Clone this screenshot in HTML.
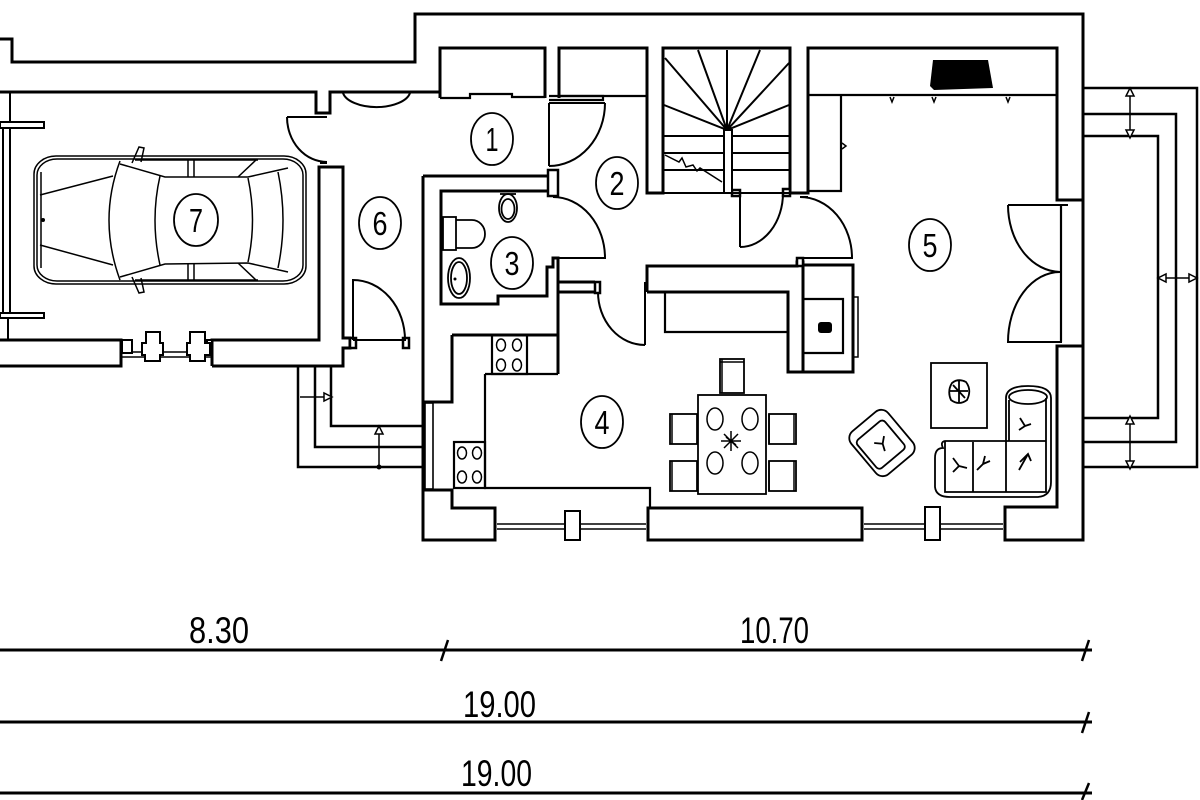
<!DOCTYPE html>
<html><head><meta charset="utf-8"><style>
html,body{margin:0;padding:0;background:#fff;}
svg{display:block}
text{font-family:"Liberation Sans",sans-serif;fill:#000;stroke:none}
</style></head><body>
<svg width="1200" height="800" viewBox="0 0 1200 800" xmlns="http://www.w3.org/2000/svg">
<rect width="1200" height="800" fill="#fff"/>

<!-- MAIN WALLS -->
<g fill="none" stroke="#000" stroke-width="3" stroke-linejoin="miter">
 <path d="M0,39 H12 V62 H415 V14 H1083 V540 H1005 V507 H1057 V346 H1083"/>
 <path d="M440,98 V48 H545 V98"/>
 <path d="M559,98 V48 H647 V193 H663 V48 H790 V193 H808 V48 H1057 V200 H1083"/>
 <!-- garage -->
 <path d="M0,92 H316 V113 H330 V92 H440"/>
 <path d="M0,340 H121 V366 H0"/>
 <path d="M212,366 V340 H319 V167 H343 V338 H350 V348 H343 V366 H212"/>
 <!-- house left / room3 -->
 <path d="M423,176 V540 H495 V508 H452 V490 H423"/>
 <path d="M423,176 H548"/>
 <path d="M548,191 H441 V304 H498 V296 H547 V267 H553 V258 H558 V374"/>
 <path d="M452,335 V402 H423"/>
 <path d="M452,335 H558"/>
 <path d="M558,282 H595"/>
 <path d="M558,292 H598"/>
 <!-- wall block + fireplace -->
 <path d="M647,292 V266 H797 V262 H803 V372"/>
 <path d="M647,292 H788 V372 H853 V265 H803"/>
 <!-- bottom wall -->
 <path d="M648,508 H862 V540 H648 Z"/>
</g>
<g fill="#fff" stroke="#000" stroke-width="2.5">
 <rect x="548" y="170" width="10" height="26"/>
 <rect x="595" y="282" width="5" height="11"/>
 <rect x="732" y="190" width="8" height="6"/>
 <rect x="783" y="189" width="7" height="7"/>
 <rect x="797" y="258" width="6" height="8"/>
 <rect x="350" y="338" width="6" height="10"/>
 <rect x="403" y="338" width="6" height="10"/>
</g>

<!-- closets, kitchen, fireplace details -->
<g fill="none" stroke="#000" stroke-width="2.2">
 <path d="M440,98 H470 V94 H512 V97 H545"/>
 <path d="M559,96 H647"/>
 <path d="M549,96 H603 V100 H549"/>
 <path d="M665,292 V332 H788"/>
 <path d="M803,299 H843 V353 H803"/>
 <rect x="853" y="297" width="5" height="60" stroke-width="1.5"/>
 <path d="M485,374 H558"/>
 <path d="M485,374 V488 H650 V508"/>
 <rect x="492" y="335" width="35" height="39"/>
 <rect x="454" y="442" width="31" height="46"/>
 <!-- room5 cabinet -->
 <path d="M808,95 H1057"/>
 <path d="M841,95 V191 H808"/>
 <!-- door frame right -->
 <path d="M1061,205 V342"/>
</g>
<rect x="818" y="322" width="14" height="11" rx="3" fill="#000"/>
<polygon points="933,60 988,60 993,88 934,90 930,86" fill="#000"/>
<g fill="none" stroke="#000" stroke-width="1.5">
 <path d="M890,97 l2,5 l2,-5 M932,97 l2,5 l2,-5 M1006,97 l2,5 l2,-5 M842,143 l4,3 l-4,3"/>
 <ellipse cx="501" cy="345" rx="4.5" ry="6"/><ellipse cx="517" cy="345" rx="4.5" ry="6"/>
 <ellipse cx="501" cy="365" rx="4.5" ry="6"/><ellipse cx="517" cy="365" rx="4.5" ry="6"/>
 <ellipse cx="462" cy="453" rx="4.5" ry="6"/><ellipse cx="477" cy="453" rx="4.5" ry="6"/>
 <ellipse cx="462" cy="477" rx="4.5" ry="6"/><ellipse cx="477" cy="477" rx="4.5" ry="6"/>
</g>

<!-- windows -->
<g fill="none" stroke="#000" stroke-width="1.6">
 <path d="M497,524 H646 M497,529 H646"/>
 <path d="M864,524 H1003 M864,529 H1003"/>
 <rect x="425" y="403" width="8" height="86"/>
 <path d="M122,352 H212 M122,357 H212"/>
</g>
<g fill="#fff" stroke="#000" stroke-width="2">
 <rect x="565" y="511" width="15" height="29"/>
 <rect x="925" y="507" width="15" height="33"/>
 <rect x="122" y="340" width="10" height="13"/>
 <rect x="207" y="340" width="5" height="13"/>
 <path d="M146,332 H160 V343 H163 V355 H160 V361 H145 V355 H142 V343 H146 Z"/>
 <path d="M190,332 H205 V343 H210 V355 H205 V361 H190 V355 H187 V343 H190 Z"/>
</g>

<!-- garage door left -->
<g fill="none" stroke="#000" stroke-width="2">
 <path d="M10,92 V122 M3,128 V313 M10,128 V313 M8,318 V340"/>
 <rect x="0" y="122" width="44" height="6" fill="#fff"/>
 <rect x="0" y="313" width="44" height="5" fill="#fff"/>
</g>

<!-- DOORS -->
<g fill="none" stroke="#000" stroke-width="2">
 <path d="M343,93 A34,17 0 0 0 410,93"/>
 <path d="M287,117 H327 M287,117 A40,45 0 0 0 327,162 M320,163 H327"/>
 <path d="M353,340 V280 A52,60 0 0 1 405,340 H353"/>
 <path d="M549,103 H605 M549,103 V166 M605,103 A56,63 0 0 1 549,166"/>
 <path d="M553,197 A52,61 0 0 1 605,258 H553"/>
 <path d="M645,282 V345 M598,292 A47,53 0 0 0 645,345"/>
 <path d="M740,193 V247 M783,193 A43,54 0 0 1 740,247"/>
 <path d="M800,197 H808 M800,197 A52,61 0 0 1 852,258 H800"/>
 <path d="M1008,205 H1068 M1008,205 A53,67 0 0 0 1060,272 A52,70 0 0 0 1008,342 H1062"/>
</g>

<!-- STAIRS -->
<g fill="none" stroke="#000" stroke-width="2">
 <path d="M727,130 L665,58 M727,130 L698,50 M727,130 L727,50 M727,130 L760,50 M727,130 L789,63 M727,130 L664,105 M727,130 L789,105"/>
 <path d="M663,136 H724 M732,136 H789 M663,153 H724 M732,153 H789 M663,170 H724 M732,170 H789"/>
 <path d="M663,193 H808"/>
 <rect x="724" y="130" width="8" height="63" fill="#fff"/>
 <path d="M665,155 L679,162 L682,158 L686,167 L693,165 L697,171 L700,168 L722,182" stroke-width="1.5"/>
</g>

<!-- ROOM 3 FIXTURES -->
<g fill="none" stroke="#000" stroke-width="1.8">
 <ellipse cx="508" cy="208" rx="9" ry="14"/>
 <ellipse cx="508" cy="209" rx="6.5" ry="10"/>
 <path d="M500,194 H516"/>
 <rect x="443" y="217" width="13" height="33"/>
 <path d="M456,220 H472 A13,14 0 0 1 472,248 H456"/>
 <ellipse cx="459" cy="278" rx="11" ry="20"/>
 <ellipse cx="459" cy="278" rx="8" ry="16"/>
</g>
<circle cx="455" cy="279" r="1.5" fill="#000"/>

<!-- DINING -->
<g fill="#fff" stroke="#000" stroke-width="1.8">
 <rect x="698" y="395" width="68" height="99"/>
 <rect x="720" y="359" width="24" height="34"/>
 <rect x="670" y="414" width="27" height="30"/>
 <rect x="670" y="461" width="27" height="30"/>
 <rect x="769" y="414" width="27" height="30"/>
 <rect x="769" y="461" width="27" height="30"/>
</g>
<g fill="none" stroke="#000" stroke-width="1.5">
 <path d="M722,359 V393 M769,414 V444 M769,461 V491 M794,414 V444 M794,461 V491 M672,414 V444 M672,461 V491 M720,362 H744"/>
 <ellipse cx="715" cy="419" rx="8" ry="11"/><ellipse cx="750" cy="419" rx="8" ry="11"/>
 <ellipse cx="715" cy="463" rx="8" ry="11"/><ellipse cx="750" cy="463" rx="8" ry="11"/>
 <path d="M724,434 L738,448 M738,434 L724,448 M731,431 V451 M721,441 H741 M726,437 l10,8"/>
</g>

<!-- LIVING -->
<g fill="none" stroke="#000" stroke-width="1.8">
 <rect x="931" y="363" width="56" height="65"/>
 <path d="M952,383 Q958,378 966,382 Q972,390 967,400 Q959,406 951,400 Q947,391 952,383 Z M950,391 H968 M953,385 L965,398 M959,381 V403"/>
 <g transform="translate(882,443) rotate(50)">
  <rect x="-28" y="-24" width="56" height="48" rx="9"/>
  <rect x="-18" y="-16" width="37" height="36" rx="4"/>
  <path d="M-4,-6 l5,6 l-6,6 M1,0 l7,3"/>
 </g>
 <path d="M943,448 Q935,448 935,458 V487 Q936,497 950,497 H1038 Q1051,496 1051,482 V398 Q1051,386 1028,386 Q1006,386 1006,398 V441 H945 Q940,442 943,448 Z"/>
 <path d="M945,441 V492 H1046 V398"/>
 <path d="M973,442 V492 M1006,441 V492 M1006,441 H1046 M1009,441 V400"/>
 <ellipse cx="1028" cy="397" rx="19" ry="7"/>
 <path d="M953,458 l6,8 l-6,6 M959,466 l8,2 M985,456 l-2,8 l-6,6 M983,464 l7,-3 M1020,418 l5,8 l-6,4 M1025,426 l6,-2 M1020,462 l8,-8 l3,7 M1028,454 l-9,16"/>
</g>

<!-- CAR -->
<g fill="none" stroke="#000" stroke-width="1.5">
 <rect x="34" y="156" width="272" height="128" rx="22" ry="18"/>
 <rect x="37" y="159" width="266" height="122" rx="20" ry="16"/>
 <path d="M41,172 V268"/>
 <path d="M40,195 L113,176 M40,245 L113,265"/>
 <path d="M120,161 Q98,220 120,280"/>
 <path d="M160,176 Q150,220 160,265"/>
 <path d="M248,178 Q257,220 248,262"/>
 <path d="M278,172 Q288,220 278,268"/>
 <path d="M120,164 L165,177 L248,177 L288,168"/>
 <path d="M120,277 L165,264 L248,263 L288,272"/>
 <path d="M135,160 H258 M135,280 H258"/>
 <path d="M188,160 V177 M194,160 V177 M188,263 V280 M194,263 V280"/>
 <path d="M238,177 L256,160 M238,263 L256,280"/>
 <path d="M132,163 L139,147 L144,148 L141,162 M132,277 L139,293 L144,292 L141,278"/>
</g>
<circle cx="43" cy="220" r="2" fill="#000"/>

<!-- EXTERIOR STEPS -->
<g fill="none" stroke="#000" stroke-width="2.5">
 <path d="M1083,88 H1197 V467 H1083"/>
 <path d="M1083,114 H1176 V442 H1083"/>
 <path d="M1083,136 H1158 V418 H1083"/>
 <path d="M298,366 V467 H423"/>
 <path d="M315,366 V447 H423"/>
 <path d="M331,366 V426 H423"/>
</g>
<g fill="none" stroke="#000" stroke-width="1.5">
 <path d="M1130,90 V134 M1130,420 V465 M1160,278 H1195 M300,397 H329 M379,428 V465"/>
</g>
<g fill="#fff" stroke="#000" stroke-width="1.5">
 <polygon points="1126,96 1134,96 1130,88"/>
 <polygon points="1126,130 1134,130 1130,138"/>
 <polygon points="1126,424 1134,424 1130,416"/>
 <polygon points="1126,461 1134,461 1130,469"/>
 <polygon points="1166,274 1166,282 1158,278"/>
 <polygon points="1189,274 1189,282 1197,278"/>
 <polygon points="324,393 324,401 332,397"/>
 <polygon points="375,434 383,434 379,426"/>
</g>
<circle cx="379" cy="467" r="2.5" fill="#000"/>

<!-- ROOM LABELS -->
<g fill="#fff" stroke="#000" stroke-width="1.8">
 <ellipse cx="492" cy="139" rx="21" ry="26"/>
 <ellipse cx="617" cy="183" rx="21" ry="26"/>
 <ellipse cx="512" cy="263" rx="21" ry="26"/>
 <ellipse cx="602" cy="422" rx="21" ry="26"/>
 <ellipse cx="930" cy="245" rx="21" ry="26"/>
 <ellipse cx="380" cy="223" rx="21" ry="26"/>
 <ellipse cx="196" cy="220" rx="22" ry="26"/>
</g>
<g font-size="33" text-anchor="middle">
 <text x="492" y="151" textLength="13" lengthAdjust="spacingAndGlyphs">1</text>
 <text x="617" y="195" textLength="15" lengthAdjust="spacingAndGlyphs">2</text>
 <text x="512" y="275" textLength="15" lengthAdjust="spacingAndGlyphs">3</text>
 <text x="602" y="434" textLength="15" lengthAdjust="spacingAndGlyphs">4</text>
 <text x="930" y="257" textLength="15" lengthAdjust="spacingAndGlyphs">5</text>
 <text x="380" y="235" textLength="15" lengthAdjust="spacingAndGlyphs">6</text>
 <text x="196" y="232" textLength="14" lengthAdjust="spacingAndGlyphs">7</text>
</g>

<!-- DIMENSIONS -->
<g fill="none" stroke="#000" stroke-width="3">
 <path d="M0,650 H1092 M0,722 H1092 M0,793 H1092"/>
 <path d="M441,661 L448,640 M1082,661 L1089,640 M1082,733 L1089,712 M1082,800 L1089,783" stroke-width="2.5"/>
</g>
<g font-size="37">
 <text x="189" y="643" textLength="60" lengthAdjust="spacingAndGlyphs">8.30</text>
 <text x="740" y="643" textLength="69" lengthAdjust="spacingAndGlyphs">10.70</text>
 <text x="463" y="717" textLength="73" lengthAdjust="spacingAndGlyphs">19.00</text>
 <text x="461" y="786" textLength="71" lengthAdjust="spacingAndGlyphs">19.00</text>
</g>
</svg>
</body></html>
